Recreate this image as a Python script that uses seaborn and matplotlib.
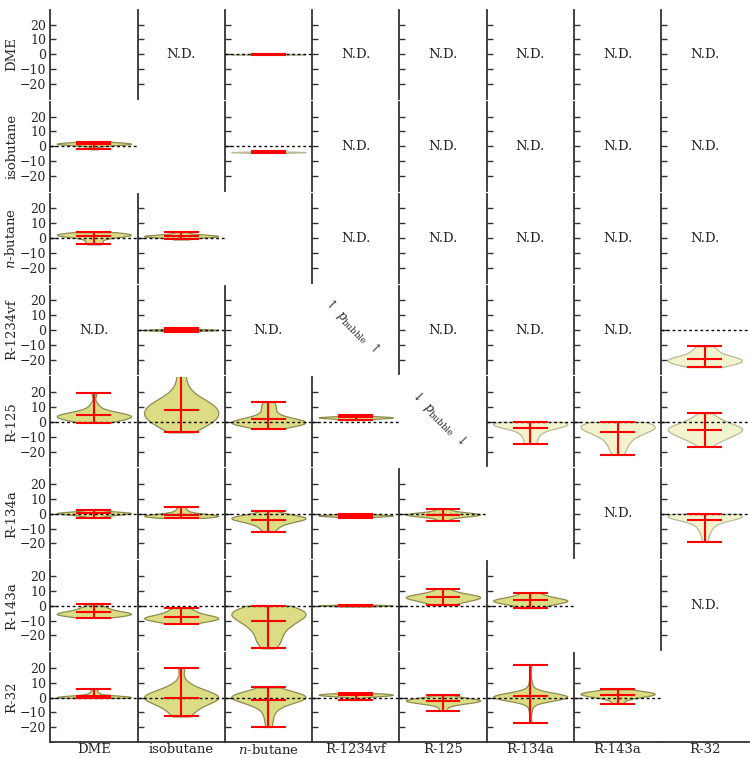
import numpy as np
import matplotlib
matplotlib.use("Agg")
import matplotlib.pyplot as plt
import seaborn as sns

# --- fluid names (row = first fluid, column = second fluid) ---
FLUIDS = ['DME', 'isobutane', '$n$-butane', 'R-1234vf', 'R-125', 'R-134a', 'R-143a', 'R-32']

# --- deviations (%), one list per fluid pair ---
# upper triangle (pale violins)
dme_nbutane = [-0.4, -0.2, -0.1, 0.0, 0.0, 0.1, 0.2, 0.4]
isobutane_nbutane = [-4.5, -4.3, -4.1, -4.0, -4.0, -3.9, -3.7, -3.5]
r1234vf_r32 = [-25, -24, -23, -22, -21.5, -21, -20.5, -20, -19.5, -19, -18, -17, -15, -13, -11]
r125_r134a = [-14.7, -12, -9, -7, -5, -4, -3, -2.5, -2, -1.5, -1.2, -1, -0.8, -0.6, -0.4, -0.2, 0]
r125_r143a = [-22, -18, -15, -12, -10, -8, -7, -6, -5, -4, -3.5, -3, -2.5, -2, -1.5, -1, -0.5, 0]
r125_r32 = [-16.7, -13, -12, -11, -10, -9, -8, -7, -6.5, -6, -5.5, -5, -4.5, -4, -3.5, -3,
            -2, -1, 0, 1.5, 3, 6]
r134a_r32 = [-18.7, -14, -11, -9, -7, -5.5, -4.5, -3.5, -3, -2.5, -2, -1.8, -1.5, -1.2, -1,
             -1.0, -0.9, -0.8, -0.7, -0.6, -0.5, -0.2, 0]

# lower triangle
isobutane_dme = [-2.0, 0.5, 1.0, 1.2, 1.5, 1.5, 1.7, 1.8, 2.0, 2.2, 2.5, 3.0]
nbutane_dme = [-4.2, -3.0, -1.5, 0.5, 1.0, 1.5, 1.8, 2.0, 2.2, 2.4, 2.6, 2.8, 3.0, 3.3, 4.0]
nbutane_isobutane = [-0.9, 0.5, 0.8, 1.0, 1.2, 1.4, 1.6, 1.8, 2.0, 2.5, 4.0]
r1234vf_isobutane = [-1.2, -0.5, -0.2, 0, 0, 0.1, 0.3, 0.5, 1.2]
r125_dme = [-0.5, 0.5, 1.0, 1.5, 2.0, 2.5, 3.0, 3.2, 3.5, 3.8, 4.0, 4.2, 4.4, 4.6, 4.8, 5.0,
            5.5, 6.0, 7.0, 9.0, 12.0, 19.5]
r125_isobutane = [-7, -4, -2, -1, 0, 1, 2, 3, 4, 5, 6, 7, 8, 9, 10, 11, 12, 13, 14, 16, 19, 24, 32]
r125_nbutane = [-4.5, -3, -2.5, -2, -1.5, -1.2, -1, -0.8, -0.5, -0.3, 0, 0, 0.2, 0.4, 0.6, 1,
                1.5, 2, 3, 4, 6, 8, 10, 12, 13.5]
r125_r1234vf = [1.3, 2.2, 2.6, 2.8, 3.0, 3.0, 3.2, 3.4, 3.8, 4.7]
r134a_dme = [-2.7, -1, -0.5, 0, 0.2, 0.4, 0.6, 0.8, 1.0, 1.2, 2.7]
r134a_isobutane = [-2.7, -2.2, -2.0, -1.8, -1.6, -1.5, -1.3, -1.2, -1.0, -0.8, -0.5, 0, 1, 2.5, 4.7]
r134a_nbutane = [-12, -10, -8, -7, -6, -5, -4.5, -4, -3.5, -3.2, -3, -2.8, -2.5, -2.2, -2,
                 -1.5, -1, 0, 2]
r134a_r1234vf = [-2.6, -1.8, -1.5, -1.3, -1.2, -1.0, -0.8, -0.5, 0.2]
r134a_r125 = [-4.7, -2.5, -1.5, -1.0, -0.8, -0.6, -0.5, -0.3, -0.1, 0.2, 0.6, 1.5, 3.3]
r143a_dme = [-8, -7, -6.5, -6, -5.8, -5.5, -5.2, -5, -4.5, -4, -3, -2, -1, 0.9]
r143a_isobutane = [-12, -11, -10, -9.5, -9, -8.7, -8.4, -8, -7.6, -7.2, -6.5, -5.5, -4.5, -3, -1.5]
r143a_nbutane = [-28.7, -26, -24, -22, -20, -18, -16, -14, -13, -12, -11, -10, -9, -8, -7,
                 -6.5, -6, -5.5, -5, -4.5, -4, -3.5, -3, -2.5, -2, -1, 0]
r143a_r1234vf = [-0.5, -0.2, 0, 0.1, 0.2, 0.3, 0.5, 0.7]
r143a_r125 = [0.4, 2, 3, 4, 4.5, 5, 5.5, 6, 6.3, 6.6, 7, 8, 9, 11.6]
r143a_r134a = [-1.6, 0.5, 1.5, 2.5, 3, 3.3, 3.6, 4, 4.5, 5.5, 7, 8.9]
r32_dme = [-0.2, -0.1, 0, 0.1, 0.2, 0.3, 0.3, 0.4, 0.5, 0.6, 0.8, 1.0, 2.0, 3.5, 5.8]
r32_isobutane = [-12.7, -11, -9, -7, -5, -4, -3, -2, -1.5, -1, -0.5, 0, 0.5, 1, 1.5, 2, 2.5,
                 3, 4, 5, 7, 10, 20]
r32_nbutane = [-19.8, -15, -11, -8, -6, -4.5, -3.5, -2.5, -2, -1.5, -1, -0.5, -0.2, 0, 0.3,
               0.6, 0.9, 1.2, 1.5, 1.8, 2.2, 2.6, 3.2, 4, 5, 6.9]
r32_r1234vf = [-1.6, 0.8, 1.3, 1.6, 1.8, 2.0, 2.1, 2.3, 2.5, 3.0]
r32_r125 = [-8.9, -5, -3.5, -3, -2.6, -2.3, -2.0, -1.8, -1.5, -1.2, -0.8, 0, 1.6]
r32_r134a = [-17, -9, -5, -2, -1.2, -0.8, -0.5, -0.3, -0.2, 0, 0.1, 0.2, 0.3, 0.3, 0.4, 0.4,
             0.5, 0.5, 0.5, 0.6, 0.6, 0.7, 0.7, 0.8, 0.8, 0.9, 0.9, 1.0, 1.0, 1.1, 1.2, 1.3,
             1.4, 1.6, 1.8, 2.2, 3.0, 4.5, 7, 11, 22]
r32_r143a = [-4.2, -1, 0.5, 1.2, 1.8, 2.2, 2.5, 2.8, 3.2, 3.6, 4.2, 5.6]

CELLS = {
    (0, 2): dme_nbutane, (1, 2): isobutane_nbutane, (3, 7): r1234vf_r32,
    (4, 5): r125_r134a, (4, 6): r125_r143a, (4, 7): r125_r32, (5, 7): r134a_r32,
    (1, 0): isobutane_dme, (2, 0): nbutane_dme, (2, 1): nbutane_isobutane,
    (3, 1): r1234vf_isobutane,
    (4, 0): r125_dme, (4, 1): r125_isobutane, (4, 2): r125_nbutane, (4, 3): r125_r1234vf,
    (5, 0): r134a_dme, (5, 1): r134a_isobutane, (5, 2): r134a_nbutane,
    (5, 3): r134a_r1234vf, (5, 4): r134a_r125,
    (6, 0): r143a_dme, (6, 1): r143a_isobutane, (6, 2): r143a_nbutane,
    (6, 3): r143a_r1234vf, (6, 4): r143a_r125, (6, 5): r143a_r134a,
    (7, 0): r32_dme, (7, 1): r32_isobutane, (7, 2): r32_nbutane, (7, 3): r32_r1234vf,
    (7, 4): r32_r125, (7, 5): r32_r134a, (7, 6): r32_r143a,
}

# pairs with no data
ND_CELLS = [(0, 1), (0, 3), (0, 4), (0, 5), (0, 6), (0, 7),
            (1, 3), (1, 4), (1, 5), (1, 6), (1, 7),
            (2, 3), (2, 4), (2, 5), (2, 6), (2, 7),
            (3, 0), (3, 2), (3, 4), (3, 5), (3, 6),
            (5, 6), (6, 7)]

# diagonal notes
NOTES = {(3, 3): r'$\uparrow$ $p_{\rm bubble}$ $\uparrow$',
         (4, 4): r'$\downarrow$ $p_{\rm bubble}$ $\downarrow$'}

YTICKS = [-20, -10, 0, 10, 20]
CAP = 0.2

sns.set_style('ticks')
plt.rcParams['font.family'] = ['DejaVu Serif', 'DejaVu Sans']
plt.rcParams['mathtext.fontset'] = 'dejavuserif'


def draw_violin(ax, values, face, edge):
    sns.violinplot(y=values, ax=ax, inner=None, cut=0, width=0.85,
                   color=face, linecolor=edge, linewidth=0.9, saturation=1)
    lo, hi, mu = np.min(values), np.max(values), np.mean(values)
    ax.axhline(0, color='k', lw=1, ls=(0, (2, 2)), zorder=3)
    ax.vlines(0, lo, hi, color='red', lw=1.5, zorder=4)
    ax.hlines([lo, hi, mu], -CAP, CAP, color='red', lw=1.5, zorder=4)


fig, axes = plt.subplots(8, 8, figsize=(7.5, 7.58), dpi=100,
                         gridspec_kw={'hspace': 0.034, 'wspace': 0.0})
fig.subplots_adjust(left=0.067, right=0.998, top=0.987, bottom=0.021)

n = len(FLUIDS)
for i in range(n):
    for j in range(n):
        ax = axes[i, j]
        if (i, j) in CELLS:
            pale = j > i
            face = '#f3f3cd' if pale else '#dcdc84'
            edge = '#b9b996' if pale else '#8c8c50'
            draw_violin(ax, CELLS[(i, j)], face, edge)
        if (i, j) in ND_CELLS:
            ax.text(0.5, 0.5, 'N.D.', transform=ax.transAxes, ha='center',
                    va='center', fontsize=9.5)
        if (i, j) in NOTES:
            ax.text(0.45, 0.55, NOTES[(i, j)], transform=ax.transAxes, ha='center',
                    va='center', fontsize=9, rotation=-45, color='0.15')

        ax.set_xlim(-0.5, 0.5)
        ax.set_ylim(-30, 30)
        ax.set_yticks(YTICKS)
        ax.set_ylabel('')
        ax.set_xlabel('')
        for side in ['top', 'right']:
            ax.spines[side].set_visible(False)
        ax.spines['left'].set_color('0.2')
        ax.spines['left'].set_linewidth(1.3)
        ax.spines['bottom'].set_color('0.2')
        ax.spines['bottom'].set_linewidth(1.3)
        ax.spines['bottom'].set_visible(i == n - 1)

        diag_hidden = (i == j) and j > 0
        ax.spines['left'].set_visible(not diag_hidden)
        ax.tick_params(axis='y', direction='in', length=4, width=1, color='0.2',
                       left=not diag_hidden, labelleft=(j == 0), labelsize=9, pad=3)
        if j == 0:
            ax.set_ylabel(FLUIDS[i], fontsize=9.5, labelpad=1)

        if i == n - 1:
            ax.set_xticks([0])
            ax.set_xticklabels([FLUIDS[j]], fontsize=9.5)
            ax.tick_params(axis='x', length=0, pad=1)
        else:
            ax.set_xticks([])

fig.savefig('out.png', dpi=100)
